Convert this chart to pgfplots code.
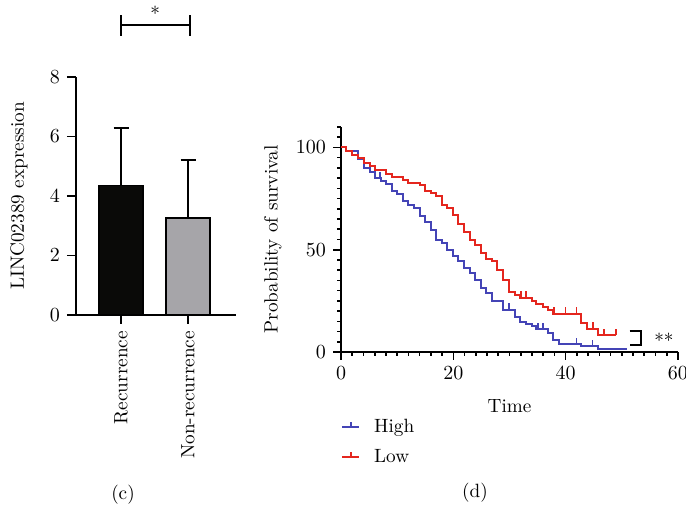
\documentclass[border=0pt]{standalone}
\usepackage{pgfplots}
\pgfplotsset{compat=1.18}

\definecolor{kmred}{RGB}{228,38,30}
\definecolor{kmblue}{RGB}{68,68,182}
\definecolor{bargray}{RGB}{166,165,169}
\definecolor{barblack}{RGB}{10,10,8}

% censoring tick: short stroke pointing up
\pgfdeclareplotmark{cens}{%
  \pgfpathmoveto{\pgfpointorigin}%
  \pgfpathlineto{\pgfpoint{0pt}{3.2pt}}%
  \pgfusepathqstroke}

\begin{document}
\begin{tikzpicture}[font=\fontsize{9.6}{11.5}\selectfont]
\useasboundingbox (0,0) rectangle (343pt,256pt);

% ---------------- (c) bar chart ----------------
\begin{axis}[
  at={(38pt,98.5pt)}, anchor=south west,
  scale only axis, width=80pt, height=119pt,
  axis lines=left, axis line style={-, line width=0.8pt},
  xmin=-0.672, xmax=1.716, ymin=0, ymax=8,
  xtick={0,1}, xticklabels={Recurrence,Non-recurrence},
  xticklabel style={rotate=90, anchor=east},
  ytick={0,2,4,6,8},
  tick align=outside, major tick length=4.5pt,
  tick style={black, line width=0.8pt},
  ylabel={LINC02389 expression},
  ylabel style={at={(axis description cs:-0.356,0.5)}, anchor=center},
  clip=false,
]
\addplot[ybar, bar width=22pt, fill=barblack, draw=black, line width=0.6pt,
  error bars/.cd, y dir=plus, y explicit,
  error bar style={line width=0.8pt, black},
  error mark options={rotate=90, mark size=3.75pt, line width=0.8pt, black}]
  coordinates {(0,4.34) +- (0,1.95)};
\addplot[ybar, bar width=22pt, fill=bargray, draw=black, line width=0.6pt,
  error bars/.cd, y dir=plus, y explicit,
  error bar style={line width=0.8pt, black},
  error mark options={rotate=90, mark size=3.75pt, line width=0.8pt, black}]
  coordinates {(1,3.26) +- (0,1.95)};

\draw[line width=0.75pt] (axis cs:0,10.08) -- (axis cs:0,9.38)
  (axis cs:0,9.75) -- (axis cs:1.03,9.75)
  (axis cs:1.03,10.08) -- (axis cs:1.03,9.38);
\node[anchor=base] at (axis cs:0.51,9.9) {*};
\end{axis}

% ---------------- (d) Kaplan-Meier ----------------
\begin{axis}[
  at={(170.5pt,80pt)}, anchor=south west,
  scale only axis, width=168.5pt, height=112.5pt,
  axis lines=left, axis line style={-, line width=0.8pt},
  xmin=0, xmax=60, ymin=0, ymax=110,
  xtick={0,20,40,60}, minor xtick={0,2,...,60},
  ytick={0,50,100}, minor ytick={0,5,...,110},
  tick align=outside, major tick length=4pt, minor tick length=2pt,
  tick style={black, line width=0.8pt},
  xlabel={Time}, ylabel={Probability of survival},
  xlabel style={at={(axis description cs:0.5,-0.24)}, anchor=center},
  ylabel style={at={(axis description cs:-0.202,0.5)}, anchor=center},
  legend image code/.code={
    \path[draw=none, fill=none] (0pt,-1pt) rectangle (15pt,1pt);
    \draw[#1, line width=0.8pt] (0pt,0pt) -- (8.5pt,0pt);
    \draw[#1, line width=0.8pt] (4.25pt,0pt) -- (4.25pt,2.5pt);},
  legend style={at={(axis description cs:0,-0.284)}, anchor=north west,
    draw=none, fill=none, inner sep=0pt, row sep=4pt,
    nodes={text height=7pt, text depth=2pt, inner sep=1pt}},
  legend cell align=left,
  clip=false,
]
% High
\addplot[const plot, kmblue, line width=1pt] coordinates {
  (0,100) (0.9,98.2) (3.0,94.4) (4.1,90.0) (5.1,88.0) (6.0,85.1) (7.1,83.5)
  (8.1,81.9) (9.0,78.6) (10.0,77.0) (11.0,73.7) (11.9,72.0) (13.0,70.4)
  (14.0,66.3) (15.0,63.6) (16.0,59.8) (16.9,54.9) (17.9,53.3) (18.8,50.0)
  (19.9,47.0) (20.9,44.3) (21.9,41.0) (23.0,38.6) (23.9,35.3) (24.9,31.2)
  (25.9,28.8) (26.9,24.7) (28.9,20.6) (30.9,17.0) (31.9,14.9) (32.9,13.7)
  (34.0,12.7) (34.8,11.1) (36.9,9.2) (37.8,5.9) (38.8,3.9) (42.8,2.9)
  (45.8,1.5) (50.9,1.5)
};
\addlegendentry{High}
% Low
\addplot[const plot, kmred, line width=1pt] coordinates {
  (0,100) (0.9,98.2) (1.9,96.1) (3.0,94.6) (4.1,92.2) (5.1,90.8) (6.0,89.2)
  (8.1,86.8) (9.0,85.6) (11.0,84.0) (11.9,82.7) (14.0,81.4) (15.0,78.6)
  (16.0,77.8) (16.9,76.1) (17.9,72.0) (18.9,70.4) (19.9,67.2) (20.9,62.7)
  (21.9,58.5) (23.0,54.9) (23.9,52.5) (24.9,48.4) (25.9,45.6) (26.9,44.3)
  (27.8,40.2) (28.9,35.3) (29.9,29.1) (30.9,27.9) (31.9,26.6) (34.0,24.7)
  (34.8,23.5) (35.9,21.9) (36.9,20.3) (37.8,18.8) (42.8,14.1) (43.8,11.3)
  (45.8,8.3) (49.0,8.3)
};
\addlegendentry{Low}
% censored observations
\addplot[only marks, mark=cens, kmblue, mark options={line width=0.8pt}, forget plot]
  coordinates {(6.9,85.1) (29.9,20.6) (35.1,11.1) (36.0,11.1) (41.9,3.9) (44.8,2.9)};
\addplot[only marks, mark=cens, kmred, mark options={line width=0.8pt}, forget plot]
  coordinates {(32.0,26.6) (32.9,26.6) (37.9,18.8) (40.0,18.8) (41.9,18.8)
               (44.9,11.3) (46.8,8.3) (49.0,8.3)};

\draw[line width=0.8pt] (axis cs:51.4,10.3) -- (axis cs:53.4,10.3)
  -- (axis cs:53.4,3.4) -- (axis cs:51.4,3.4);
\node[anchor=base] at (axis cs:57.5,2) {**};
\end{axis}

\node at (61.5pt,8.5pt) {(c)};
\node at (237.5pt,9.5pt) {(d)};
\end{tikzpicture}
\end{document}
